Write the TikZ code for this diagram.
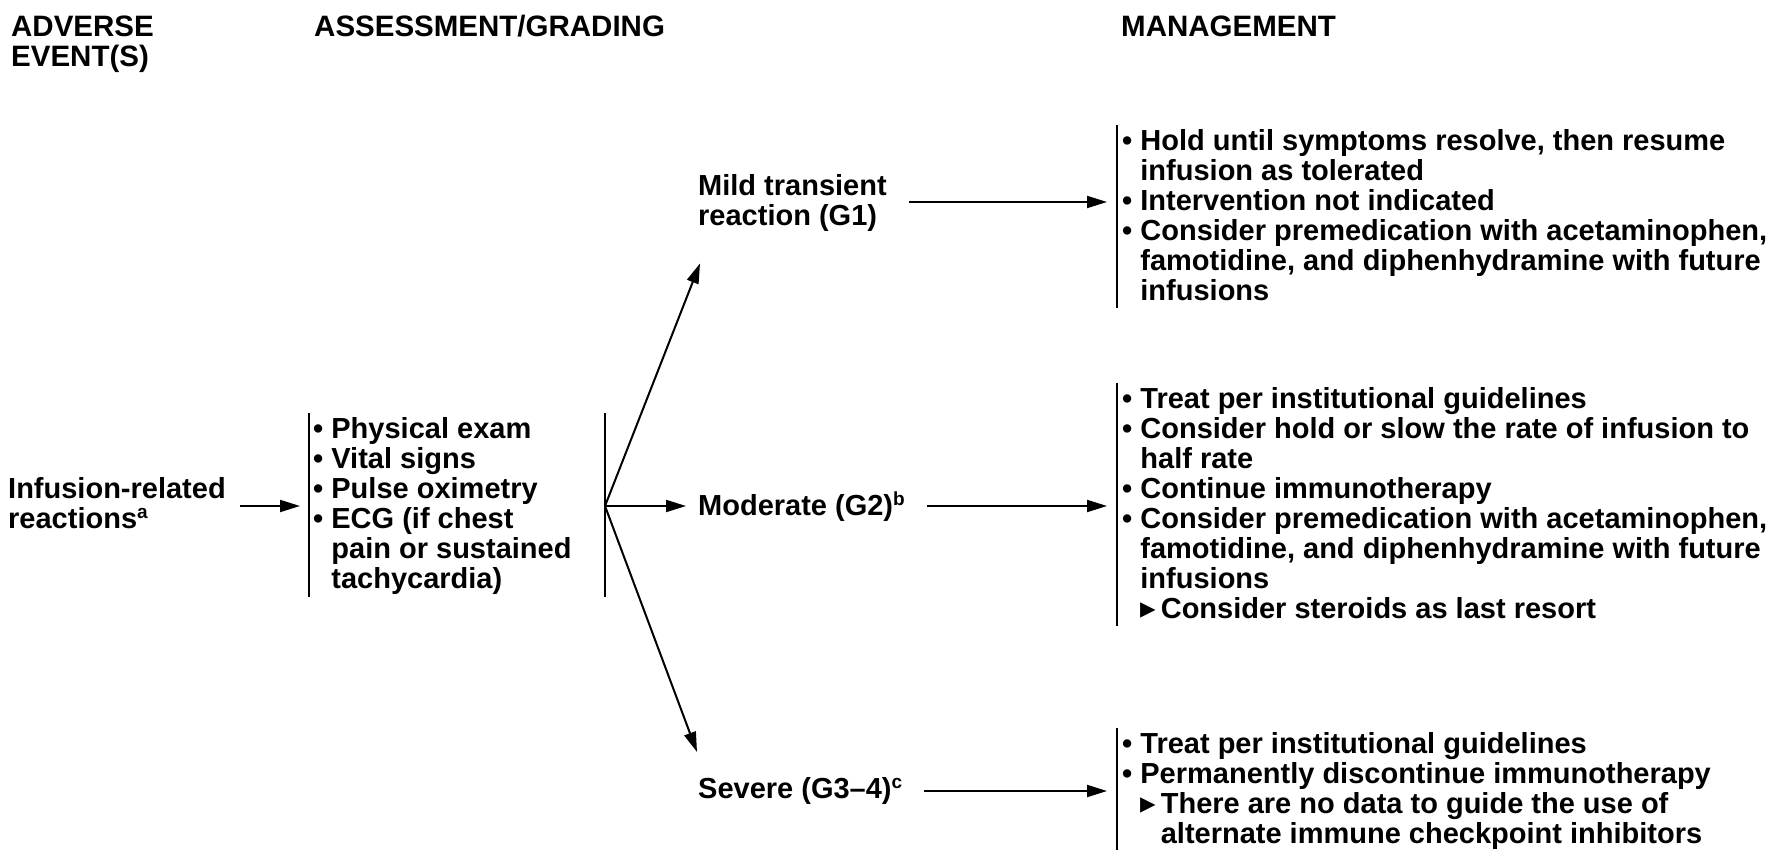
\documentclass[tikz,border=0pt]{standalone}
\usepackage{fontspec}
\setmainfont{Liberation Sans}
\newfontfamily\dejavu{DejaVu Sans}
\usetikzlibrary{arrows.meta}
\newcommand\fs{\rule{0pt}{22pt}}
\newcommand\ind{\hphantom{• }}
\newcommand\tri{{\dejavu\fontsize{31}{30}\selectfont ▸}\,}
\newcommand\tind{\hphantom{\tri}}
\newcommand\sups[1]{\raisebox{10pt}{\fontsize{19}{19}\selectfont #1}}
\begin{document}
\begin{tikzpicture}[x=1pt,y=-1pt,
  txt/.style={anchor=north west,inner sep=0pt,align=left,font=\bfseries\fontsize{29}{30}\selectfont},
  hdr/.style={txt,font=\bfseries\fontsize{29.5}{30}\selectfont},
  bar/.style={line width=2.4pt},
  arr/.style={line width=2pt,-{Triangle[length=20pt,width=12pt]}}]
\fill[white] (0,0) rectangle (1779,850);
\useasboundingbox (0,0) rectangle (1779,850);
% headers
\node[hdr] (h1) at (11,14) {\fs ADVERSE\\EVENT(S)};
\node[hdr] (h2) at (314,14) {\fs ASSESSMENT/GRADING};
\node[hdr] (h3) at (1121,14) {\fs MANAGEMENT};
% left
\node[txt] (inf) at (8,476) {\fs Infusion-related\\reactions\sups{a}};
\node[txt] (ass) at (313,416) {\fs • Physical exam\\• Vital signs\\• Pulse oximetry\\• ECG (if chest\\\ind pain or sustained\\\ind tachycardia)};
% grades
\node[txt] (mild) at (698,173) {\fs Mild transient\\reaction (G1)};
\node[txt] (mod) at (698,492) {\fs Moderate (G2)\sups{b}};
\node[txt] (sev) at (698,776) {\fs Severe (G3–4)\sups{c}};
% management
\node[txt] (mg1) at (1122,128) {\fs • Hold until symptoms resolve, then resume\\\ind infusion as tolerated\\• Intervention not indicated\\• Consider premedication with acetaminophen,\\\ind famotidine, and diphenhydramine with future\\\ind infusions};
\node[txt] (mg2) at (1122,386) {\fs • Treat per institutional guidelines\\• Consider hold or slow the rate of infusion to\\\ind half rate\\• Continue immunotherapy\\• Consider premedication with acetaminophen,\\\ind famotidine, and diphenhydramine with future\\\ind infusions\\\ind\tri Consider steroids as last resort};
\node[txt] (mg3) at (1122,731) {\fs • Treat per institutional guidelines\\• Permanently discontinue immunotherapy\\\ind\tri There are no data to guide the use of\\\ind\tind alternate immune checkpoint inhibitors};
% coordinates
\coordinate (b1t) at (309,413); \coordinate (b1b) at (309,597);
\coordinate (b2t) at (605,413); \coordinate (b2b) at (605,597);
\coordinate (j) at (605,506);
\coordinate (m1t) at (1117,125); \coordinate (m1b) at (1117,308);
\coordinate (m2t) at (1117,383); \coordinate (m2b) at (1117,626);
\coordinate (m3t) at (1117,728); \coordinate (m3b) at (1117,850);
\coordinate (y1) at (0,202); \coordinate (y3) at (0,791);
% bars
\draw[bar] (b1t) -- (b1b);
\draw[bar] (b2t) -- (b2b);
\draw[bar] (m1t) -- (m1b);
\draw[bar] (m2t) -- (m2b);
\draw[bar] (m3t) -- (m3b);
% arrows
\draw[arr] ([xshift=14pt]inf.east |- j) -- ([xshift=-9pt]b1t |- j);
\draw[arr] (j) -- ([xshift=2pt,yshift=-32pt]mild.south west);
\draw[arr] (j) -- ([xshift=-12pt]mod.west |- j);
\draw[arr] (j) -- ([xshift=-1pt,yshift=24pt]sev.north west);
\draw[arr] ([xshift=22pt]mild.east |- y1) -- ([xshift=-10pt]m1t |- y1);
\draw[arr] ([xshift=22pt]mod.east |- j) -- ([xshift=-10pt]m2t |- j);
\draw[arr] ([xshift=22pt]sev.east |- y3) -- ([xshift=-10pt]m3t |- y3);
\end{tikzpicture}
\end{document}
